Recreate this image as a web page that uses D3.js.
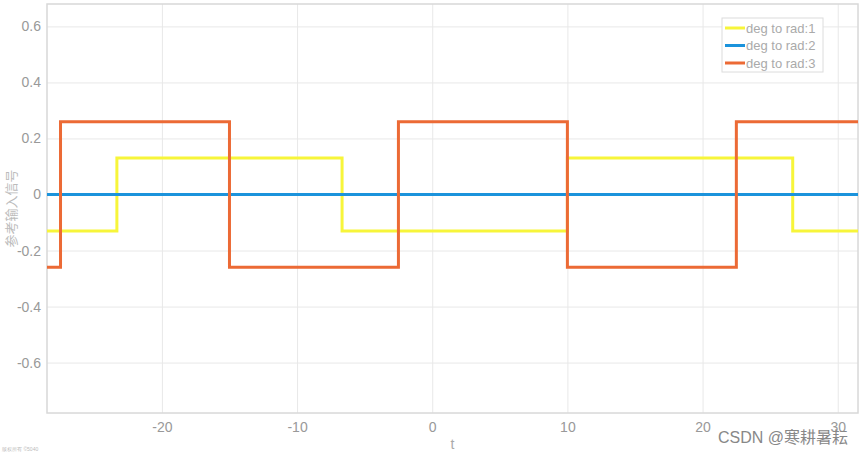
<!DOCTYPE html>
<html>
<head>
<meta charset="utf-8">
<script src="https://cdn.jsdelivr.net/npm/d3@7"></script>
<style>
  body { margin: 0; background: #fff; }
  svg { font-family: "Liberation Sans", Arial, sans-serif; }
</style>
</head>
<body>
<svg id="chart"></svg>
<script>
// step points: value holds from each time until the next one
const tYellow = [-28.5, -23.33, -6.67, 10, 26.67, 31.5];
const vYellow = [-0.13, 0.13, -0.13, 0.13, -0.13, -0.13];
const tBlue = [-28.5, 31.5];
const vBlue = [0, 0];
const tOrange = [-28.5, -27.5, -15, -2.5, 10, 22.5, 31.5];
const vOrange = [-0.26, 0.26, -0.26, 0.26, -0.26, 0.26, 0.26];

const xTicks = [-20, -10, 0, 10, 20, 30];
const yTicks = [-0.6, -0.4, -0.2, 0, 0.2, 0.4, 0.6];
const seriesNames = ['deg to rad:1', 'deg to rad:2', 'deg to rad:3'];
const seriesColors = ['#f7f53a', '#1b93dc', '#ec6a35'];

const margin = { top: 4, right: 6, bottom: 41, left: 47 },
  width = 864 - margin.left - margin.right,
  height = 454 - margin.top - margin.bottom;

const root = d3.select('#chart').attr('width', 864).attr('height', 454);
const svg = root.append('g')
  .attr('transform', 'translate(' + margin.left + ',' + margin.top + ')');

const x = d3.scaleLinear().domain([-28.5, 31.5]).range([0, width]);
const y = d3.scaleLinear().domain([-0.78, 0.68]).range([height, 0]);

// plain hyphen for negatives, like the original
const fmtX = d => String(d);
const fmtY = d => d === 0 ? '0' : d.toFixed(1);

// grid
svg.append('g')
  .attr('transform', 'translate(0,' + height + ')')
  .call(d3.axisBottom(x).tickValues(xTicks).tickSize(-height).tickFormat(''))
  .call(g => g.select('.domain').remove())
  .call(g => g.selectAll('line').attr('stroke', '#e8e8e8'));
svg.append('g')
  .call(d3.axisLeft(y).tickValues(yTicks).tickSize(-width).tickFormat(''))
  .call(g => g.select('.domain').remove())
  .call(g => g.selectAll('line').attr('stroke', '#e8e8e8'));

// tick labels
svg.append('g')
  .attr('transform', 'translate(0,' + height + ')')
  .call(d3.axisBottom(x).tickValues(xTicks).tickSize(0).tickPadding(9).tickFormat(fmtX))
  .call(g => g.select('.domain').remove())
  .call(g => g.selectAll('text').attr('fill', '#999').style('font-size', '14px'));
svg.append('g')
  .call(d3.axisLeft(y).tickValues(yTicks).tickSize(0).tickPadding(6).tickFormat(fmtY))
  .call(g => g.select('.domain').remove())
  .call(g => g.selectAll('text').attr('fill', '#999').style('font-size', '14px'));

// box
svg.append('rect')
  .attr('width', width).attr('height', height)
  .attr('fill', 'none').attr('stroke', '#d8d8d8').attr('stroke-width', 1.5);

// lines
const line = d3.line()
  .x(d => x(d[0]))
  .y(d => y(d[1]))
  .curve(d3.curveStepAfter);

const series = [
  d3.zip(tYellow, vYellow),
  d3.zip(tBlue, vBlue),
  d3.zip(tOrange, vOrange)
];
series.forEach(function (s, i) {
  svg.append('path')
    .datum(s)
    .attr('fill', 'none')
    .attr('stroke', seriesColors[i])
    .attr('stroke-width', 3)
    .attr('d', line);
});

// axis labels
svg.append('text')
  .attr('x', width / 2).attr('y', height + 36)
  .attr('text-anchor', 'middle')
  .attr('fill', '#aaa').style('font-size', '14px')
  .text('t');
svg.append('text')
  .attr('transform', 'rotate(-90)')
  .attr('x', -height / 2).attr('y', -31)
  .attr('text-anchor', 'middle')
  .attr('fill', '#bbb').style('font-size', '13px')
  .style('font-family', '"Noto Sans CJK SC", sans-serif')
  .text('参考输入信号');

// legend
const legend = root.append('g').attr('transform', 'translate(722,18)');
legend.append('rect')
  .attr('width', 101).attr('height', 54)
  .attr('fill', '#fff').attr('stroke', '#dcdcdc');
seriesNames.forEach(function (name, i) {
  const row = legend.append('g').attr('transform', 'translate(0,' + (10 + i * 17.5) + ')');
  row.append('line')
    .attr('x1', 3).attr('x2', 23)
    .attr('stroke', seriesColors[i]).attr('stroke-width', 3);
  row.append('text')
    .attr('x', 24).attr('dy', '0.35em')
    .attr('fill', '#aaa').style('font-size', '13px')
    .text(name);
});

// watermark
root.append('text')
  .attr('x', 848).attr('y', 443)
  .attr('text-anchor', 'end')
  .attr('fill', '#888').style('font-size', '16px')
  .style('font-family', '"Liberation Sans", "Noto Sans CJK SC", sans-serif')
  .text('CSDN @寒耕暑耘');
root.append('text')
  .attr('x', 2).attr('y', 451)
  .attr('fill', '#bbb').style('font-size', '5px')
  .text('版权所有 ©5040');
</script>
</body>
</html>
